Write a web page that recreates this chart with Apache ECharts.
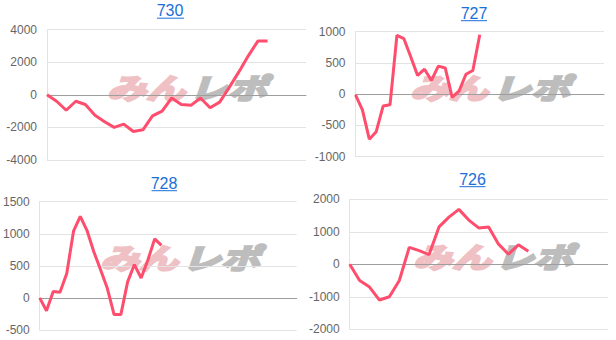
<!DOCTYPE html>
<html><head><meta charset="utf-8">
<script src="https://cdn.jsdelivr.net/npm/echarts@6/dist/echarts.min.js"></script>
<style>html,body{margin:0;padding:0;background:#fff}#c{width:616px;height:340px}</style>
</head><body><div id="c"></div>
<script>
const titles = ['730', '727', '728', '726'];

const cats730 = [1,2,3,4,5,6,7,8,9,10,11,12,13,14,15,16,17,18,19,20,21,22,23,24,25,26,27,28];
const cats727 = [1,2,3,4,5,6,7,8,9,10,11,12,13,14,15,16,17,18,19,20,21,22,23,24,25,26,27,28,29,30,31,32,33,34,35,36,37];
const cats728 = [1,2,3,4,5,6,7,8,9,10,11,12,13,14,15,16,17,18,19,20,21,22,23,24,25,26,27,28,29,30,31,32,33,34,35,36,37,38,39];
const cats726 = [1,2,3,4,5,6,7,8,9,10,11,12,13,14,15,16,17,18,19,20,21,22,23,24,25,26,27];

const vals730 = [0,-400,-950,-400,-600,-1250,-1650,-2000,-1800,-2250,-2150,-1300,-1000,-200,-600,-650,-200,-800,-450,450,1400,2400,3300,3300];
const vals727 = [-10,-250,-720,-600,-190,-170,940,890,600,300,400,220,450,420,-50,50,320,380,950];
const vals728 = [0,-200,100,90,380,1040,1270,1050,720,440,150,-260,-260,250,520,310,590,920,820];
const vals726 = [0,-500,-700,-1100,-1000,-500,520,420,300,1150,1450,1690,1360,1120,1150,620,310,600,400];

const ticks730 = [-4000,-2000,0,2000,4000];
const ticks727 = [-1000,-500,0,500,1000];
const ticks728 = [-500,0,500,1000,1500];
const ticks726 = [-2000,-1000,0,1000,2000];

const panels = [
  {title: titles[0], cats: cats730, vals: vals730, ticks: ticks730, grid: {left: 47, top: 29.5, width: 259, height: 130.5}, tx: 170, ty: 2,  ul: [157, 184, 18.2], wm: [187, 86]},
  {title: titles[1], cats: cats727, vals: vals727, ticks: ticks727, grid: {left: 355.5, top: 31.7, width: 248.5, height: 125}, tx: 474, ty: 5, ul: [461, 487, 20.7], wm: [490, 86]},
  {title: titles[2], cats: cats728, vals: vals728, ticks: ticks728, grid: {left: 39, top: 201.7, width: 257.7, height: 128.3}, tx: 164, ty: 175, ul: [151.5, 177, 190.7], wm: [180, 256]},
  {title: titles[3], cats: cats726, vals: vals726, ticks: ticks726, grid: {left: 349.7, top: 199.3, width: 258, height: 130}, tx: 472.5, ty: 171, ul: [459.5, 485.5, 186.7], wm: [493, 255]}
];

const FONT = '"Liberation Sans", Arial, sans-serif';
const chart = echarts.init(document.getElementById('c'), null, {renderer: 'svg'});

const option = {
  animation: false,
  backgroundColor: '#fff',
  title: [], grid: [], xAxis: [], yAxis: [], series: [], graphic: []
};

panels.forEach((p, i) => {
  option.title.push({
    text: p.title, left: p.tx, top: p.ty, textAlign: 'center', padding: 0,
    textStyle: {fontFamily: FONT, fontSize: 16, fontWeight: 'normal', color: '#1a6fd8'}
  });
  option.grid.push(Object.assign({containLabel: false}, p.grid));
  option.xAxis.push({
    type: 'category', gridIndex: i, data: p.cats, boundaryGap: false,
    axisLabel: {show: false}, axisTick: {show: false},
    axisLine: {show: true, onZero: true, lineStyle: {color: '#9e9e9e', width: 1}},
    splitLine: {show: false}
  });
  const t = p.ticks;
  option.yAxis.push({
    type: 'value', gridIndex: i, min: t[0], max: t[t.length - 1], interval: t[1] - t[0],
    axisLine: {show: true, lineStyle: {color: '#e3e3e3', width: 1}},
    axisTick: {show: false},
    axisLabel: {fontFamily: FONT, fontSize: 12, color: '#666', margin: 10, formatter: v => String(v)},
    splitLine: {show: true, lineStyle: {color: '#e3e3e3', width: 1}}
  });
  option.series.push({
    type: 'line', xAxisIndex: i, yAxisIndex: i, data: p.vals,
    showSymbol: false, symbol: 'none', z: 5,
    lineStyle: {color: '#ff4d6d', width: 3}
  });
  option.graphic.push({
    type: 'line', z: 10, silent: true,
    shape: {x1: p.ul[0], y1: p.ul[2], x2: p.ul[1], y2: p.ul[2]},
    style: {stroke: '#1a6fd8', lineWidth: 1}
  });
  option.graphic.push({
    type: 'group', x: p.wm[0], y: p.wm[1], z: -1, silent: true,
    children: [
      {type: 'text', x: -2, y: 0, scaleX: 1.3, scaleY: 0.95, style: {text: 'みん', fontFamily: '"Noto Sans CJK JP"', fontWeight: 'bold', fontStyle: 'italic', fontSize: 30, fill: '#efc0c4', stroke: '#efc0c4', lineWidth: 2.5, textAlign: 'right', textVerticalAlign: 'middle'}},
      {type: 'text', x: 2, y: 0, scaleX: 1.3, scaleY: 0.95, style: {text: 'レポ', fontFamily: '"Noto Sans CJK JP"', fontWeight: 'bold', fontStyle: 'italic', fontSize: 30, fill: '#bdbdbd', stroke: '#bdbdbd', lineWidth: 2.5, textAlign: 'left', textVerticalAlign: 'middle'}}
    ]
  });
});

chart.setOption(option);
</script>
</body></html>
